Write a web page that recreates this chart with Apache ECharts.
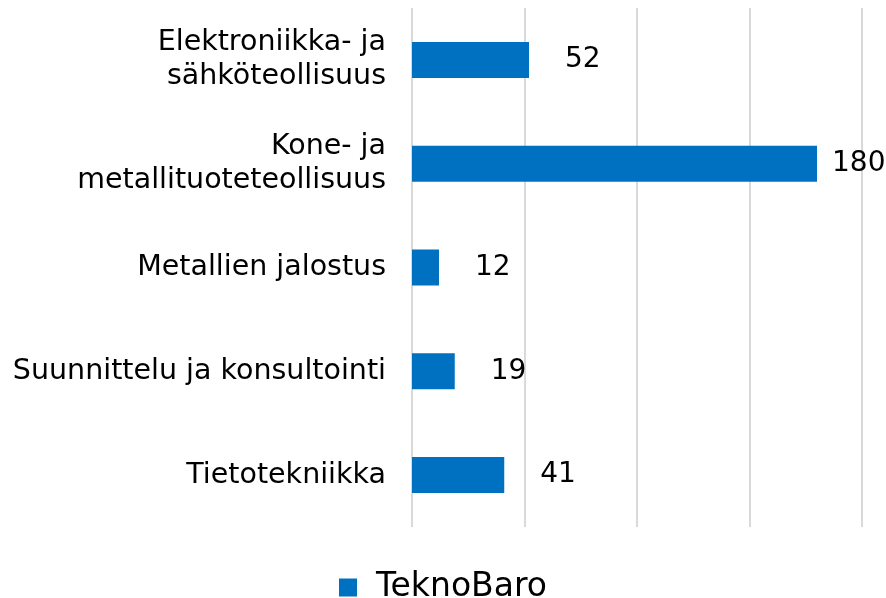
<!DOCTYPE html>
<html>
<head>
<meta charset="utf-8">
<script src="https://cdn.jsdelivr.net/npm/echarts@6/dist/echarts.min.js"></script>
<style>
  html, body { margin: 0; padding: 0; background: #fff; }
  #chart { width: 886px; height: 598px; }
</style>
</head>
<body>
<div id="chart"></div>
<script>
// toimialat ylhäältä alas
const categories = [
  'Elektroniikka- ja\nsähköteollisuus',
  'Kone- ja\nmetallituoteteollisuus',
  'Metallien jalostus',
  'Suunnittelu ja konsultointi',
  'Tietotekniikka'
]
const teknoBaro = [52, 180, 12, 19, 41]
const seriesName = 'TeknoBaro'

const font = 'DejaVu Sans, Verdana, sans-serif'

const chart = echarts.init(document.getElementById('chart'))
const option = {
  animation: false,
  grid: { left: 412, right: 24, top: 8, bottom: 71 },
  legend: {
    data: [seriesName],
    top: 566,
    left: 'center',
    icon: 'rect',
    itemWidth: 18,
    itemHeight: 18,
    textStyle: { fontFamily: font, fontSize: 33, color: '#000', padding: [0, 0, 0, 14] }
  },
  xAxis: {
    type: 'value',
    min: 0,
    max: 200,
    interval: 50,
    axisLabel: { show: false },
    axisLine: { show: false },
    axisTick: { show: false },
    splitLine: { lineStyle: { color: '#d9d9d9', width: 2 } }
  },
  yAxis: {
    type: 'category',
    inverse: true,
    data: categories,
    axisLine: { show: false },
    axisTick: { show: false },
    axisLabel: { fontFamily: font, fontSize: 28.5, lineHeight: 34, color: '#000', margin: 26, align: 'right' }
  },
  series: [
    {
      name: seriesName,
      type: 'bar',
      barWidth: 36,
      itemStyle: { color: '#0070C0' },
      label: {
        show: true,
        position: 'right',
        distance: 36,
        fontFamily: font,
        fontSize: 28,
        color: '#000'
      },
      // pisin palkki: otsikko lähempänä, ettei mene yli
      data: teknoBaro.map(v => v === Math.max(...teknoBaro) ? { value: v, label: { distance: 15 } } : v)
    }
  ]
}
chart.setOption(option)
</script>
</body>
</html>
